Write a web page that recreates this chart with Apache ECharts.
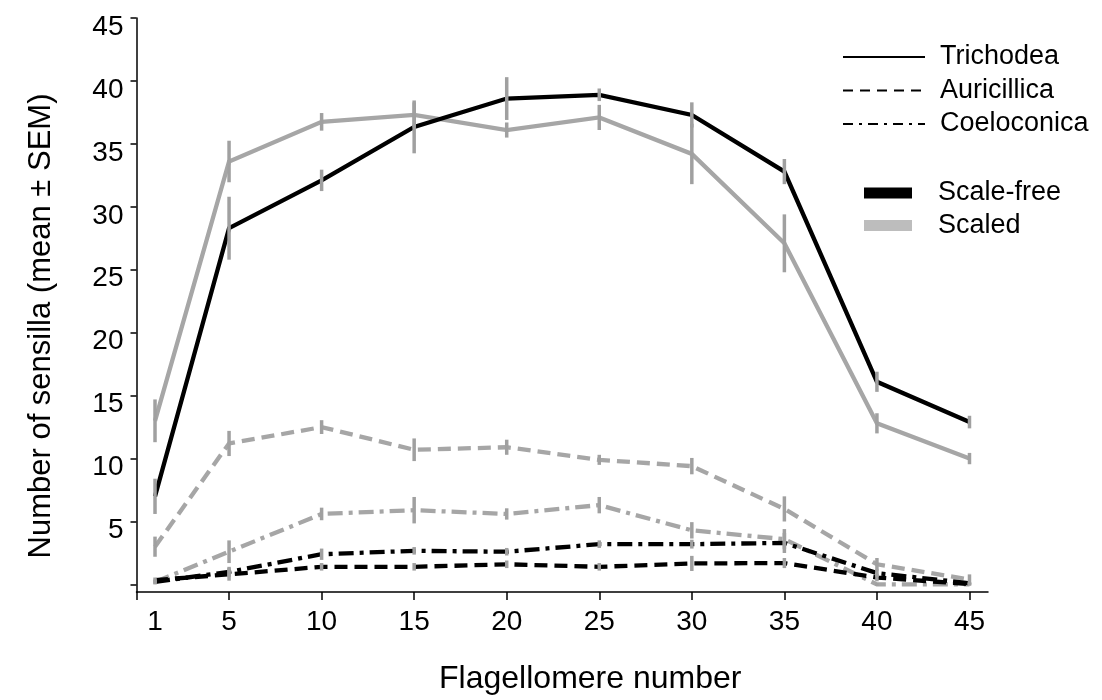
<!DOCTYPE html>
<html>
<head>
<meta charset="utf-8">
<script src="https://cdn.jsdelivr.net/npm/echarts@6/dist/echarts.min.js"></script>
<style>
  html, body { margin: 0; padding: 0; background: #fff; }
  #chart { width: 1102px; height: 700px; }
</style>
</head>
<body>
<div id="chart"></div>
<script>
// ---- data ----
const flagellomere = [1, 5, 10, 15, 20, 25, 30, 35, 40, 45];
const xTickValues = [0, 5, 10, 15, 20, 25, 30, 35, 40, 45];
const xLabelValues = [1, 5, 10, 15, 20, 25, 30, 35, 40, 45];
const yTickValues = [0, 5, 10, 15, 20, 25, 30, 35, 40, 45];
const yLabelValues = [5, 10, 15, 20, 25, 30, 35, 40, 45];

// Scale-free (black)
const trichodeaFree    = [7.0, 28.3, 32.1, 36.35, 38.6, 38.9, 37.3, 32.8, 16.1, 12.9];
const trichodeaFreeSem = [1.4, 2.5, 0.85, 2.1, 1.7, 0.5, 1.0, 1.0, 0.8, 0.5];
const auricillicaFree    = [0.35, 0.8, 1.4, 1.4, 1.6, 1.4, 1.67, 1.7, 0.55, 0.03];
const auricillicaFreeSem = [0.2, 0.5, 0.3, 0.3, 0.3, 0.3, 0.6, 0.4, 0.3, 0.1];
const coeloconicaFree    = [0.2, 1.0, 2.4, 2.67, 2.6, 3.2, 3.2, 3.3, 0.9, 0.1];
const coeloconicaFreeSem = [0.15, 0.4, 0.45, 0.3, 0.3, 0.3, 0.35, 0.8, 0.3, 0.1];

// Scaled (grey)
const trichodeaScaled    = [13.0, 33.6, 36.75, 37.3, 36.1, 37.1, 34.2, 27.1, 12.8, 10.0];
const trichodeaScaledSem = [1.7, 1.65, 0.7, 1.0, 0.6, 1.0, 2.4, 2.3, 0.8, 0.45];
const auricillicaScaled    = [3.0, 11.2, 12.5, 10.7, 10.9, 9.9, 9.4, 6.0, 1.6, 0.4];
const auricillicaScaledSem = [0.8, 1.0, 0.55, 0.9, 0.6, 0.4, 0.65, 1.0, 0.5, 0.4];
const coeloconicaScaled    = [0.2, 2.6, 5.6, 5.9, 5.6, 6.3, 4.3, 3.6, 0.0, 0.0];
const coeloconicaScaledSem = [0.2, 0.9, 0.5, 1.05, 0.45, 0.65, 0.65, 0.8, 0.1, 0.1];

const typeNames = ['Trichodea', 'Auricillica', 'Coeloconica'];
const groupNames = ['Scale-free', 'Scaled'];

// ---- styling ----
const BLACK = '#000000';
const GREY = '#a6a6a6';
const BAR_GREY = '#a0a0a0';
const FONT = '"Liberation Sans", Arial, sans-serif';
const DASH = [13, 7];
const DASHDOT = [15, 6, 4, 6];

function pairs(ys) { return flagellomere.map((x, i) => [x, ys[i]]); }
function errRows(ys, es) { return flagellomere.map((x, i) => [x, ys[i], es[i]]); }

function lineSeries(name, ys, color, type) {
  return {
    name: name, type: 'line', data: pairs(ys), symbol: 'none',
    lineStyle: { color: color, width: 4.3, type: type, cap: 'butt', join: 'miter' },
    itemStyle: { color: color }, z: color === BLACK ? 4 : 3, silent: true
  };
}

const errData = []
  .concat(errRows(trichodeaScaled, trichodeaScaledSem))
  .concat(errRows(auricillicaScaled, auricillicaScaledSem))
  .concat(errRows(coeloconicaScaled, coeloconicaScaledSem))
  .concat(errRows(trichodeaFree, trichodeaFreeSem))
  .concat(errRows(auricillicaFree, auricillicaFreeSem))
  .concat(errRows(coeloconicaFree, coeloconicaFreeSem));

const chart = echarts.init(document.getElementById('chart'), null, { renderer: 'canvas' });

const option = {
  animation: false,
  backgroundColor: '#ffffff',
  textStyle: { fontFamily: FONT },
  grid: { left: 136.5, top: 18, width: 851.5, height: 574, containLabel: false },
  legend: [
    {
      data: typeNames.map(n => ({ name: n, itemStyle: { color: 'rgba(0,0,0,0)', borderColor: 'rgba(0,0,0,0)', borderWidth: 0 } })),
      orient: 'vertical', left: 842, top: 43.5, padding: 0,
      itemWidth: 82, itemHeight: 14, itemGap: 6.5,
      selectedMode: false,
      textStyle: { fontFamily: FONT, fontSize: 27, color: '#000', lineHeight: 27, padding: [0, 0, 0, 10] }
    },
    {
      data: groupNames.map(n => ({ name: n, icon: 'rect' })),
      orient: 'vertical', left: 864, top: 179.5, padding: 0,
      itemWidth: 48, itemHeight: 11, itemGap: 5.5,
      selectedMode: false,
      textStyle: { fontFamily: FONT, fontSize: 27, color: '#000', lineHeight: 27, padding: [0, 0, 0, 21] }
    }
  ],
  xAxis: {
    type: 'value', min: 0, max: 46,
    name: 'Flagellomere number', nameLocation: 'middle', nameGap: 71,
    nameTextStyle: { fontFamily: FONT, fontSize: 32, color: '#000', padding: [0, 0, 0, 56] },
    axisLine: { show: true, onZero: false, lineStyle: { color: '#000', width: 1.5 } },
    axisTick: { show: true, inside: false, length: 8, customValues: xTickValues, lineStyle: { color: '#000', width: 1.5 } },
    axisLabel: { customValues: xLabelValues, fontFamily: FONT, fontSize: 28, color: '#000', margin: 16 },
    splitLine: { show: false }
  },
  yAxis: {
    type: 'value', min: -0.6, max: 45,
    name: 'Number of sensilla (mean ± SEM)', nameLocation: 'middle', nameGap: 80,
    nameTextStyle: { fontFamily: FONT, fontSize: 31, color: '#000', padding: [0, 42, 0, 0] },
    axisLine: { show: true, onZero: false, lineStyle: { color: '#000', width: 1.5 } },
    axisTick: { show: true, inside: false, length: 6, customValues: yTickValues, lineStyle: { color: '#000', width: 1.5 } },
    axisLabel: { customValues: yLabelValues, fontFamily: FONT, fontSize: 28, color: '#000', margin: 13,
                 verticalAlign: 'top', lineHeight: 18 },
    splitLine: { show: false }
  },
  series: [
    // legend-only entries
    { name: 'Trichodea', type: 'line', data: [], symbol: 'none', lineStyle: { color: BLACK, width: 2.2, type: 'solid' }, itemStyle: { color: BLACK } },
    { name: 'Auricillica', type: 'line', data: [], symbol: 'none', lineStyle: { color: BLACK, width: 2.2, type: [10, 7] }, itemStyle: { color: BLACK } },
    { name: 'Coeloconica', type: 'line', data: [], symbol: 'none', lineStyle: { color: BLACK, width: 2.2, type: [10, 6, 3, 6] }, itemStyle: { color: BLACK } },
    { name: 'Scale-free', type: 'line', data: [], symbol: 'none', lineStyle: { color: BLACK }, itemStyle: { color: BLACK } },
    { name: 'Scaled', type: 'line', data: [], symbol: 'none', lineStyle: { color: '#bdbdbd' }, itemStyle: { color: '#bdbdbd' } },

    // data lines
    lineSeries('Trichodea scaled', trichodeaScaled, GREY, 'solid'),
    lineSeries('Auricillica scaled', auricillicaScaled, GREY, DASH),
    lineSeries('Coeloconica scaled', coeloconicaScaled, GREY, DASHDOT),
    lineSeries('Trichodea scale-free', trichodeaFree, BLACK, 'solid'),
    lineSeries('Auricillica scale-free', auricillicaFree, BLACK, DASH),
    lineSeries('Coeloconica scale-free', coeloconicaFree, BLACK, DASHDOT),

    // SEM error bars
    {
      name: 'SEM', type: 'custom', data: errData, z: 6, silent: true,
      encode: { x: 0, y: 1 },
      renderItem: function (params, api) {
        const x = api.value(0), y = api.value(1), e = api.value(2);
        const p1 = api.coord([x, y - e]);
        const p2 = api.coord([x, y + e]);
        return {
          type: 'line',
          shape: { x1: p1[0], y1: p1[1], x2: p2[0], y2: p2[1] },
          style: { stroke: BAR_GREY, lineWidth: 3.5 }
        };
      }
    }
  ]
};

chart.setOption(option);
</script>
</body>
</html>
